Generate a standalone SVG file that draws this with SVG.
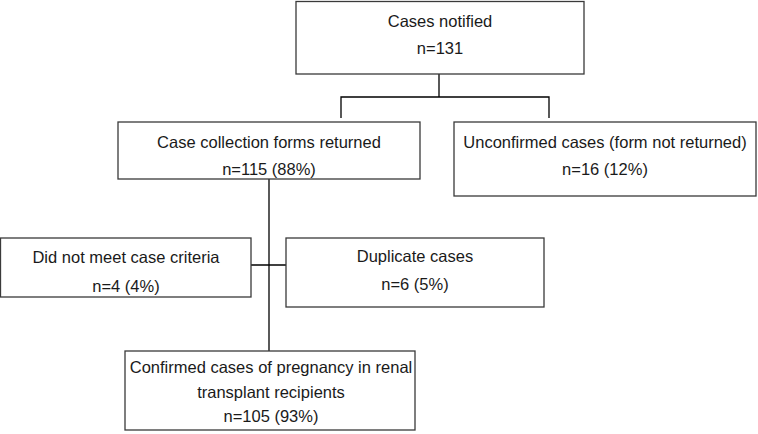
<svg xmlns="http://www.w3.org/2000/svg" width="758" height="434" viewBox="0 0 758 434">
<style>
.box{fill:#fff;stroke:#3a3a3a;stroke-width:1.3}
.t{font-family:"Liberation Sans",Arial,sans-serif;font-size:16.5px;fill:#1a1a1a;text-anchor:middle}
.c{fill:none;stroke:#000;stroke-width:1.3}
</style>
<rect width="758" height="434" fill="#fff"/>
<g id="connectors">
<path class="c" d="M439,74 V97 M341,118 V97 H549 V118"/>
<path class="c" d="M269,179 V351"/>
<path class="c" d="M251,265 H286"/>
</g>
<g id="notified">
<rect class="box" x="296" y="1.5" width="288" height="72.5"/>
<text class="t" x="440" y="27">Cases notified</text>
<text class="t" x="440" y="54">n=131</text>
</g>
<g id="returned">
<rect class="box" x="118" y="122" width="302" height="57"/>
<text class="t" x="269" y="148">Case collection forms returned</text>
<text class="t" x="269" y="175">n=115 (88%)</text>
</g>
<g id="unconfirmed">
<rect class="box" x="454" y="122" width="302" height="74"/>
<text class="t" x="605" y="148">Unconfirmed cases (form not returned)</text>
<text class="t" x="605" y="175">n=16 (12%)</text>
</g>
<g id="criteria">
<rect class="box" x="0.5" y="238" width="250.5" height="59"/>
<text class="t" x="126" y="263">Did not meet case criteria</text>
<text class="t" x="126" y="292">n=4 (4%)</text>
</g>
<g id="duplicate">
<rect class="box" x="286" y="238" width="258" height="69"/>
<text class="t" x="415" y="262">Duplicate cases</text>
<text class="t" x="415" y="290">n=6 (5%)</text>
</g>
<g id="confirmed">
<rect class="box" x="125" y="351" width="290" height="79"/>
<text class="t" x="271" y="373">Confirmed cases of pregnancy in renal</text>
<text class="t" x="271" y="398">transplant recipients</text>
<text class="t" x="271" y="422">n=105 (93%)</text>
</g>
</svg>
